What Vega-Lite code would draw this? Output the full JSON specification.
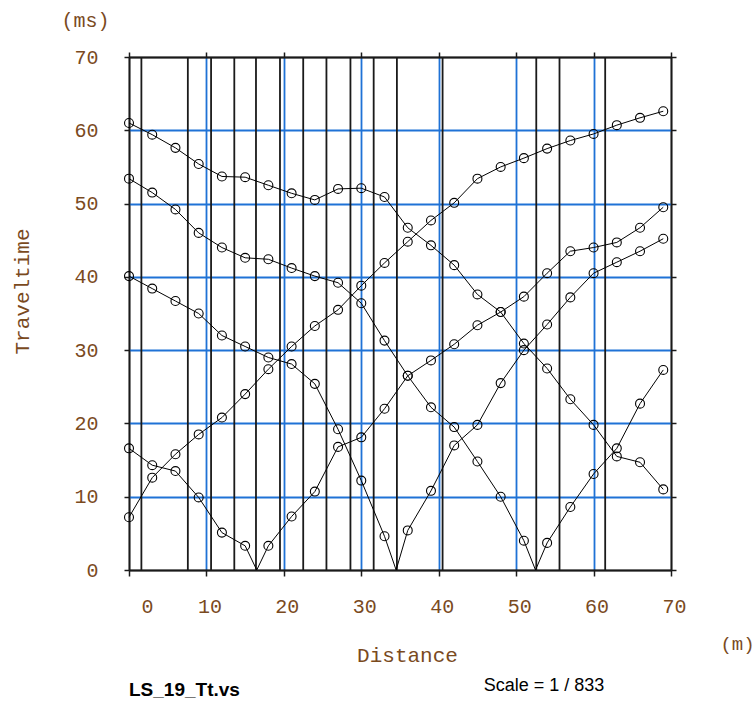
{
  "$schema": "https://vega.github.io/schema/vega-lite/v6.json",
  "autosize": {"type": "none"},
  "padding": {"left": 129, "top": 57, "right": 83, "bottom": 139},
  "width": 542,
  "height": 513,
  "background": "white",
  "config": {"view": {"stroke": null}},
  "datasets": {
    "vlines": [
      {"pos": 1.6}, {"pos": 7.6}, {"pos": 10.6}, {"pos": 13.6}, {"pos": 16.4}, {"pos": 19.5}, {"pos": 22.5}, {"pos": 25.5}, {"pos": 28.6}, {"pos": 31.6}, {"pos": 34.6}, {"pos": 40.5}, {"pos": 52.6}, {"pos": 55.6}, {"pos": 61.5}
    ],
    "notes": [
      {"label": "Scale = 1 / 833"}
    ],
    "fname": [
      {"label": "LS_19_Tt.vs"}
    ],
    "pts": [
      {"shot": "A", "x": 0, "t": 7.2, "kind": "rec"},
      {"shot": "A", "x": 3, "t": 12.6, "kind": "rec"},
      {"shot": "A", "x": 6, "t": 15.8, "kind": "rec"},
      {"shot": "A", "x": 9, "t": 18.5, "kind": "rec"},
      {"shot": "A", "x": 12, "t": 20.8, "kind": "rec"},
      {"shot": "A", "x": 15, "t": 24.0, "kind": "rec"},
      {"shot": "A", "x": 18, "t": 27.4, "kind": "rec"},
      {"shot": "A", "x": 21, "t": 30.5, "kind": "rec"},
      {"shot": "A", "x": 24, "t": 33.3, "kind": "rec"},
      {"shot": "A", "x": 27, "t": 35.5, "kind": "rec"},
      {"shot": "A", "x": 30, "t": 38.8, "kind": "rec"},
      {"shot": "A", "x": 33, "t": 41.9, "kind": "rec"},
      {"shot": "A", "x": 36, "t": 44.8, "kind": "rec"},
      {"shot": "A", "x": 39, "t": 47.7, "kind": "rec"},
      {"shot": "A", "x": 42, "t": 50.1, "kind": "rec"},
      {"shot": "A", "x": 45, "t": 53.4, "kind": "rec"},
      {"shot": "A", "x": 48, "t": 55.0, "kind": "rec"},
      {"shot": "A", "x": 51, "t": 56.2, "kind": "rec"},
      {"shot": "A", "x": 54, "t": 57.5, "kind": "rec"},
      {"shot": "A", "x": 57, "t": 58.6, "kind": "rec"},
      {"shot": "A", "x": 60, "t": 59.5, "kind": "rec"},
      {"shot": "A", "x": 63, "t": 60.7, "kind": "rec"},
      {"shot": "A", "x": 66, "t": 61.7, "kind": "rec"},
      {"shot": "A", "x": 69, "t": 62.6, "kind": "rec"},

      {"shot": "S1", "x": 0, "t": 16.6, "kind": "rec"},
      {"shot": "S1", "x": 3, "t": 14.3, "kind": "rec"},
      {"shot": "S1", "x": 6, "t": 13.5, "kind": "rec"},
      {"shot": "S1", "x": 9, "t": 9.9, "kind": "rec"},
      {"shot": "S1", "x": 12, "t": 5.1, "kind": "rec"},
      {"shot": "S1", "x": 15, "t": 3.3, "kind": "rec"},
      {"shot": "S1", "x": 16.5, "t": 0, "kind": "shot"},
      {"shot": "S1", "x": 18, "t": 3.3, "kind": "rec"},
      {"shot": "S1", "x": 21, "t": 7.3, "kind": "rec"},
      {"shot": "S1", "x": 24, "t": 10.7, "kind": "rec"},
      {"shot": "S1", "x": 27, "t": 16.8, "kind": "rec"},
      {"shot": "S1", "x": 30, "t": 18.1, "kind": "rec"},
      {"shot": "S1", "x": 33, "t": 22.0, "kind": "rec"},
      {"shot": "S1", "x": 36, "t": 26.5, "kind": "rec"},
      {"shot": "S1", "x": 39, "t": 28.6, "kind": "rec"},
      {"shot": "S1", "x": 42, "t": 30.8, "kind": "rec"},
      {"shot": "S1", "x": 45, "t": 33.4, "kind": "rec"},
      {"shot": "S1", "x": 48, "t": 35.2, "kind": "rec"},
      {"shot": "S1", "x": 51, "t": 37.3, "kind": "rec"},
      {"shot": "S1", "x": 54, "t": 40.5, "kind": "rec"},
      {"shot": "S1", "x": 57, "t": 43.5, "kind": "rec"},
      {"shot": "S1", "x": 60, "t": 44.0, "kind": "rec"},
      {"shot": "S1", "x": 63, "t": 44.7, "kind": "rec"},
      {"shot": "S1", "x": 66, "t": 46.7, "kind": "rec"},
      {"shot": "S1", "x": 69, "t": 49.5, "kind": "rec"},

      {"shot": "S2", "x": 0, "t": 40.1, "kind": "rec"},
      {"shot": "S2", "x": 3, "t": 38.4, "kind": "rec"},
      {"shot": "S2", "x": 6, "t": 36.7, "kind": "rec"},
      {"shot": "S2", "x": 9, "t": 35.0, "kind": "rec"},
      {"shot": "S2", "x": 12, "t": 32.0, "kind": "rec"},
      {"shot": "S2", "x": 15, "t": 30.5, "kind": "rec"},
      {"shot": "S2", "x": 18, "t": 29.0, "kind": "rec"},
      {"shot": "S2", "x": 21, "t": 28.1, "kind": "rec"},
      {"shot": "S2", "x": 24, "t": 25.4, "kind": "rec"},
      {"shot": "S2", "x": 27, "t": 19.2, "kind": "rec"},
      {"shot": "S2", "x": 30, "t": 12.2, "kind": "rec"},
      {"shot": "S2", "x": 33, "t": 4.6, "kind": "rec"},
      {"shot": "S2", "x": 34.5, "t": 0, "kind": "shot"},
      {"shot": "S2", "x": 36, "t": 5.4, "kind": "rec"},
      {"shot": "S2", "x": 39, "t": 10.8, "kind": "rec"},
      {"shot": "S2", "x": 42, "t": 17.0, "kind": "rec"},
      {"shot": "S2", "x": 45, "t": 19.8, "kind": "rec"},
      {"shot": "S2", "x": 48, "t": 25.5, "kind": "rec"},
      {"shot": "S2", "x": 51, "t": 30.0, "kind": "rec"},
      {"shot": "S2", "x": 54, "t": 33.5, "kind": "rec"},
      {"shot": "S2", "x": 57, "t": 37.2, "kind": "rec"},
      {"shot": "S2", "x": 60, "t": 40.5, "kind": "rec"},
      {"shot": "S2", "x": 63, "t": 42.0, "kind": "rec"},
      {"shot": "S2", "x": 66, "t": 43.5, "kind": "rec"},
      {"shot": "S2", "x": 69, "t": 45.2, "kind": "rec"},

      {"shot": "S3", "x": 0, "t": 53.4, "kind": "rec"},
      {"shot": "S3", "x": 3, "t": 51.5, "kind": "rec"},
      {"shot": "S3", "x": 6, "t": 49.2, "kind": "rec"},
      {"shot": "S3", "x": 9, "t": 46.0, "kind": "rec"},
      {"shot": "S3", "x": 12, "t": 44.0, "kind": "rec"},
      {"shot": "S3", "x": 15, "t": 42.6, "kind": "rec"},
      {"shot": "S3", "x": 18, "t": 42.4, "kind": "rec"},
      {"shot": "S3", "x": 21, "t": 41.2, "kind": "rec"},
      {"shot": "S3", "x": 24, "t": 40.1, "kind": "rec"},
      {"shot": "S3", "x": 27, "t": 39.2, "kind": "rec"},
      {"shot": "S3", "x": 30, "t": 36.4, "kind": "rec"},
      {"shot": "S3", "x": 33, "t": 31.3, "kind": "rec"},
      {"shot": "S3", "x": 36, "t": 26.5, "kind": "rec"},
      {"shot": "S3", "x": 39, "t": 22.2, "kind": "rec"},
      {"shot": "S3", "x": 42, "t": 19.5, "kind": "rec"},
      {"shot": "S3", "x": 45, "t": 14.8, "kind": "rec"},
      {"shot": "S3", "x": 48, "t": 10.0, "kind": "rec"},
      {"shot": "S3", "x": 51, "t": 4.0, "kind": "rec"},
      {"shot": "S3", "x": 52.5, "t": 0, "kind": "shot"},
      {"shot": "S3", "x": 54, "t": 3.7, "kind": "rec"},
      {"shot": "S3", "x": 57, "t": 8.6, "kind": "rec"},
      {"shot": "S3", "x": 60, "t": 13.1, "kind": "rec"},
      {"shot": "S3", "x": 63, "t": 16.6, "kind": "rec"},
      {"shot": "S3", "x": 66, "t": 22.7, "kind": "rec"},
      {"shot": "S3", "x": 69, "t": 27.3, "kind": "rec"},

      {"shot": "R", "x": 0, "t": 61.0, "kind": "rec"},
      {"shot": "R", "x": 3, "t": 59.4, "kind": "rec"},
      {"shot": "R", "x": 6, "t": 57.6, "kind": "rec"},
      {"shot": "R", "x": 9, "t": 55.4, "kind": "rec"},
      {"shot": "R", "x": 12, "t": 53.7, "kind": "rec"},
      {"shot": "R", "x": 15, "t": 53.6, "kind": "rec"},
      {"shot": "R", "x": 18, "t": 52.5, "kind": "rec"},
      {"shot": "R", "x": 21, "t": 51.4, "kind": "rec"},
      {"shot": "R", "x": 24, "t": 50.5, "kind": "rec"},
      {"shot": "R", "x": 27, "t": 52.0, "kind": "rec"},
      {"shot": "R", "x": 30, "t": 52.1, "kind": "rec"},
      {"shot": "R", "x": 33, "t": 50.9, "kind": "rec"},
      {"shot": "R", "x": 36, "t": 46.7, "kind": "rec"},
      {"shot": "R", "x": 39, "t": 44.3, "kind": "rec"},
      {"shot": "R", "x": 42, "t": 41.6, "kind": "rec"},
      {"shot": "R", "x": 45, "t": 37.6, "kind": "rec"},
      {"shot": "R", "x": 48, "t": 35.2, "kind": "rec"},
      {"shot": "R", "x": 51, "t": 30.9, "kind": "rec"},
      {"shot": "R", "x": 54, "t": 27.5, "kind": "rec"},
      {"shot": "R", "x": 57, "t": 23.3, "kind": "rec"},
      {"shot": "R", "x": 60, "t": 19.8, "kind": "rec"},
      {"shot": "R", "x": 63, "t": 15.5, "kind": "rec"},
      {"shot": "R", "x": 66, "t": 14.7, "kind": "rec"},
      {"shot": "R", "x": 69, "t": 11.0, "kind": "rec"}
    ]
  },
  "layer": [
    {
      "data": {"name": "vlines"},
      "mark": {"type": "rule", "color": "#1a1a1a", "strokeWidth": 1.8},
      "encoding": {
        "x": {
          "field": "pos", "type": "quantitative",
          "scale": {"domain": [0, 70], "nice": false, "zero": false},
          "axis": {
            "orient": "bottom",
            "values": [0, 10, 20, 30, 40, 50, 60, 70],
            "title": "Distance",
            "grid": true,
            "gridColor": {"condition": {"test": "datum.value == 0 || datum.value == 70", "value": "#1a1a1a"}, "value": "#1f72d6"},
            "gridWidth": 1.8,
            "gridOpacity": 1,
            "domainColor": "#1a1a1a", "domainWidth": 1.5,
            "tickColor": "#1a1a1a", "tickSize": 6, "tickWidth": 1.5,
            "labelFont": "Liberation Mono", "labelFontSize": 20, "labelColor": "#7a4a1e",
            "labelPadding": 20, "labelFlush": false, "labelOverlap": false,
            "labelOffset": {"condition": {"test": "datum.value == 0", "value": 18}, "value": 3},
            "titleFont": "Liberation Mono", "titleFontSize": 21, "titleFontWeight": "normal", "titleColor": "#7a4a1e",
            "titlePadding": 28, "titleX": 278
          }
        }
      }
    },
    {
      "data": {"name": "pts"},
      "mark": {"type": "line", "color": "#000000", "strokeWidth": 1},
      "encoding": {
        "x": {
          "field": "x", "type": "quantitative",
          "axis": {
            "orient": "top",
            "values": [0, 10, 20, 30, 40, 50, 60, 70],
            "labels": false, "grid": false,
            "domainColor": "#1a1a1a", "domainWidth": 1.5,
            "tickColor": "#1a1a1a", "tickSize": 5, "tickWidth": 1.5,
            "title": "(m)", "titleAngle": 0, "titleX": 608, "titleY": 586,
            "titleAlign": "center", "titleBaseline": "middle",
            "titleFont": "Liberation Mono", "titleFontSize": 19, "titleFontWeight": "normal", "titleColor": "#7a4a1e"
          }
        },
        "y": {
          "field": "t", "type": "quantitative",
          "scale": {"domain": [0, 70], "nice": false, "zero": false},
          "axis": {
            "orient": "left",
            "values": [0, 10, 20, 30, 40, 50, 60, 70],
            "grid": true,
            "gridColor": {"condition": {"test": "datum.value == 0 || datum.value == 70", "value": "#1a1a1a"}, "value": "#1f72d6"},
            "gridWidth": 1.8, "gridOpacity": 1,
            "domainColor": "#1a1a1a", "domainWidth": 1.5,
            "tickColor": "#1a1a1a", "tickSize": 5, "tickWidth": 1.5,
            "labelFont": "Liberation Mono", "labelFontSize": 20, "labelColor": "#7a4a1e",
            "labelPadding": 26, "labelFlush": false, "labelOverlap": false,
            "title": "Traveltime", "titleX": -107, "titleY": 234, "titleBaseline": "middle", "titleAlign": "center",
            "titleFont": "Liberation Mono", "titleFontSize": 21, "titleFontWeight": "normal", "titleColor": "#7a4a1e"
          }
        },
        "detail": {"field": "shot"},
        "order": {"field": "x", "type": "quantitative"}
      }
    },
    {
      "data": {"name": "pts"},
      "transform": [{"filter": "datum.kind == 'rec'"}],
      "mark": {"type": "point", "shape": "circle", "filled": false, "color": "#000000", "strokeWidth": 1.1, "size": 80, "opacity": 1},
      "encoding": {
        "x": {"field": "x", "type": "quantitative", "axis": null},
        "y": {
          "field": "t", "type": "quantitative",
          "axis": {
            "orient": "right",
            "values": [0, 10, 20, 30, 40, 50, 60, 70],
            "labels": false, "grid": false,
            "domainColor": "#1a1a1a", "domainWidth": 1.5,
            "tickColor": "#1a1a1a", "tickSize": 5, "tickWidth": 1.5,
            "title": "(ms)", "titleAngle": 0, "titleX": -586, "titleY": -37,
            "titleAlign": "center", "titleBaseline": "middle",
            "titleFont": "Liberation Mono", "titleFontSize": 20, "titleFontWeight": "normal", "titleColor": "#7a4a1e"
          }
        }
      }
    },
    {
      "data": {"name": "notes"},
      "mark": {"type": "text", "font": "Liberation Sans", "fontSize": 18, "color": "#000000", "align": "center", "baseline": "middle"},
      "encoding": {
        "text": {"field": "label"},
        "x": {"datum": 53.6, "type": "quantitative", "axis": null},
        "y": {"datum": -15.8, "type": "quantitative", "axis": null}
      }
    },
    {
      "data": {"name": "fname"},
      "mark": {"type": "text", "font": "Liberation Sans", "fontSize": 19, "fontWeight": "bold", "color": "#000000", "align": "left", "baseline": "middle"},
      "encoding": {
        "text": {"field": "label"},
        "x": {"datum": 0, "type": "quantitative", "axis": null},
        "y": {"datum": -16.4, "type": "quantitative", "axis": null}
      }
    }
  ],
  "resolve": {"axis": {"x": "independent", "y": "independent"}}
}
